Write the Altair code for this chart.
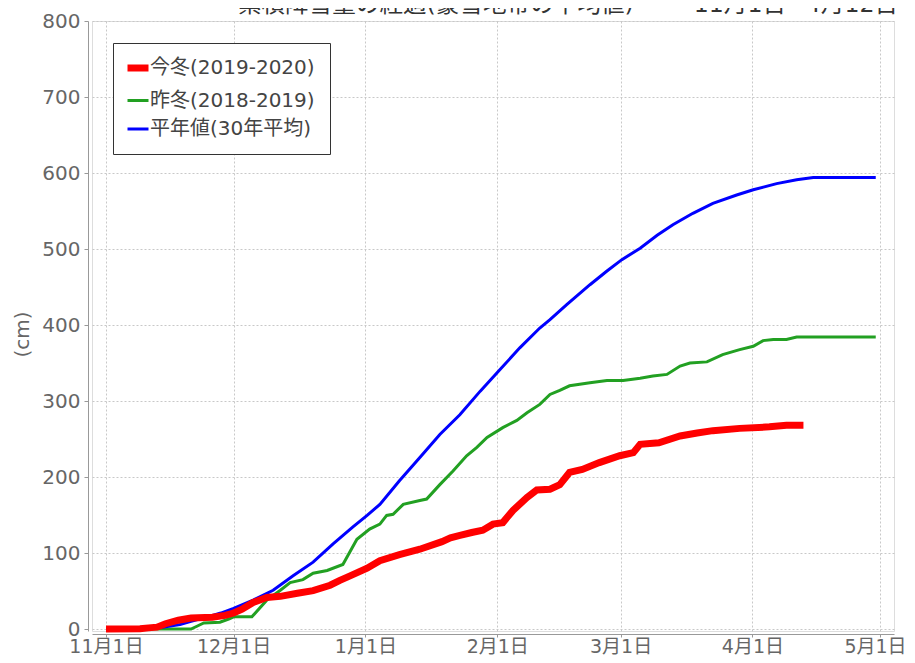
import altair as alt
import pandas as pd

FONT = "DejaVu Sans, Noto Sans CJK JP"

series_names = ["今冬(2019-2020)", "昨冬(2018-2019)", "平年値(30年平均)"]
series_colors = ["#ff0000", "#22a022", "#0000ff"]
series_widths = [7, 3, 3]

# days since Nov 1 and cumulative snowfall (cm)
red_days = [0, 8, 10, 12, 14, 17, 20, 25, 28, 30, 32, 34.6, 37.8, 41, 45, 48.7, 52.7, 55, 57,
            61.4, 64.4, 69, 73.8, 79, 81, 83, 86, 88.6, 91, 93.3, 95.7, 99, 101.3, 104.4, 106.7,
            109, 112, 116, 120.8, 124, 125.6, 130, 135, 139, 142.7, 149, 156, 160, 164]
red_vals = [0, 0.5, 1.5, 2.5, 7, 11.6, 14.5, 15.5, 18, 21, 26, 35, 41.5, 43, 47, 50.5, 57.6, 64, 69,
            80, 90, 98, 105, 115, 120, 123, 127, 130, 138, 140, 156, 173, 183, 184, 190,
            206, 210, 219, 228, 232, 243, 245, 254, 258, 261, 264, 266, 268, 268]

green_days = [0, 20, 21.5, 23, 26.8, 29, 30, 34.3, 37.8, 41, 43.3, 46.3, 48.7, 52, 55.7, 59, 62,
              64.4, 66, 67.5, 69.9, 73.8, 75.4, 78.5, 81.6, 84.8, 87.2, 89.6, 93.3, 96.6, 99, 102,
              104.4, 106.7, 109, 113.8, 117.8, 121.6, 125.6, 128.6, 131.9, 135, 137.3, 141.3, 145,
              149, 152.2, 154.5, 156.9, 160, 162.4, 181]
green_vals = [0, 0, 4, 8, 9, 13.5, 16, 16, 38, 51, 61, 65, 73.5, 77, 85, 118, 131.5,
              138, 149.5, 151, 164, 169, 171, 190, 208, 228, 239, 252, 265, 274.5, 284.6, 295.5,
              308.6, 314, 320, 324, 327, 327, 330, 333, 335, 346, 350, 351.5, 361,
              367.6, 372, 379.5, 381, 381, 384.3, 384.3]

blue_days = [0, 8, 10, 12, 14, 17.4, 20, 23.7, 27, 30, 34.6, 39.3, 44, 48.7, 53.4, 58, 61.4, 64.4,
             69, 73.8, 78.5, 83.2, 88, 92.6, 97.3, 102, 104.4, 108.4, 113.8, 117.8, 121.3, 125.6,
             129.6, 133.3, 138, 142.7, 148.3, 152.2, 157.7, 162.4, 166.3, 181]
blue_vals = [0, 0, 0.5, 1.5, 3, 6, 10, 15.7, 21, 27, 38, 51, 70, 88, 112, 134, 149.5, 164,
             195, 225.6, 256, 282, 313, 341, 370, 396, 407, 427, 453, 471, 486, 501,
             518, 532, 547, 560, 571, 578, 586, 591, 594, 594]

tick_dates = ["2019-11-01", "2019-12-01", "2020-01-01", "2020-02-01", "2020-03-01",
              "2020-04-01", "2020-05-01"]
y_ticks = [0, 100, 200, 300, 400, 500, 600, 700, 800]

start = pd.Timestamp("2019-11-01")


def frame(days, vals, name):
    return pd.DataFrame({
        "date": [start + pd.Timedelta(days=d) for d in days],
        "cm": vals,
        "series": name,
    })


df = pd.concat([
    frame(green_days, green_vals, series_names[1]),
    frame(blue_days, blue_vals, series_names[2]),
    frame(red_days, red_vals, series_names[0]),
], ignore_index=True)


def dt(s, hours=0):
    t = pd.Timestamp(s)
    return alt.DateTime(year=t.year, month=t.month, date=t.day, hours=hours)


x_enc = alt.X(
    "date:T",
    scale=alt.Scale(domain=[dt("2019-10-28", 17), dt("2020-05-04", 7)], nice=False),
    axis=alt.Axis(
        values=[dt(s) for s in tick_dates],
        format="%-m月%-d日",
        title=None,
        labelFontSize=19,
        labelFont=FONT,
        labelColor="#666666",
        labelPadding=0,
        labelOffset={"condition": {"test": "month(datum.value) == 4", "value": -5}, "value": 0},
        tickSize=3,
        tickColor="#999999",
        domainColor="#999999",
        offset=3,
        grid=True,
        gridColor="#c8c8c8",
        gridDash=[2, 2],
        labelOverlap=False,
        labelFlush=False,
    ),
)

y_enc = alt.Y(
    "cm:Q",
    scale=alt.Scale(domain=[-2.6, 800], nice=False, zero=False),
    axis=alt.Axis(
        values=y_ticks,
        title="(cm)",
        titleFont=FONT,
        titleFontSize=20,
        titleFontWeight="normal",
        titleColor="#666666",
        titleX=-66,
        titleY=313,
        titleAngle=-90,
        titleAlign="center",
        titleBaseline="middle",
        labelFontSize=20,
        labelFont=FONT,
        labelColor="#666666",
        labelPadding=4,
        tickSize=4,
        tickColor="#999999",
        domainColor="#999999",
        offset=4,
        grid=True,
        gridColor="#c8c8c8",
        gridDash=[2, 2],
    ),
)

color_enc = alt.Color(
    "series:N",
    scale=alt.Scale(domain=series_names, range=series_colors),
    title=None,
    legend=alt.Legend(
        orient="none",
        legendX=21,
        legendY=22,
        direction="vertical",
        strokeColor="#333333",
        fillColor="#ffffff",
        padding=15,
        rowPadding=8.5,
        labelFont=FONT,
        labelFontSize=20,
        labelColor="#444444",
        labelOffset=2,
        labelLimit=400,
        symbolType="stroke",
        symbolSize=441,
        symbolStrokeWidth={"expr": "datum.value == '今冬(2019-2020)' ? 7 : 3"},
        cornerRadius=0,
    ),
)

base = alt.Chart(df)
green = base.transform_filter(alt.datum.series == series_names[1]).mark_line(strokeWidth=series_widths[1]).encode(
    x=x_enc, y=y_enc, color=color_enc, order="date:T")
blue = base.transform_filter(alt.datum.series == series_names[2]).mark_line(strokeWidth=series_widths[2]).encode(
    x=x_enc, y=y_enc, color=color_enc, order="date:T")
red = base.transform_filter(alt.datum.series == series_names[0]).mark_line(strokeWidth=series_widths[0]).encode(
    x=x_enc, y=y_enc, color=color_enc, order="date:T")

title_text = "累積降雪量の経過(豪雪地帯の平均値)" + "\u00a0" * 8 + "11月1日~4月12日"

chart = alt.layer(green, blue, red).properties(
    width=802,
    height=610,
    autosize=alt.AutoSizeParams(type="none"),
    padding={"left": 84, "top": 13, "right": 13, "bottom": 24},
    title=alt.TitleParams(
        text=title_text,
        anchor="end",
        frame="group",
        offset=-6,
        dx=4,
        fontSize=23.6,
        font=FONT,
        fontWeight="normal",
        color="#333333",
    ),
).configure_view(
    stroke="#999999",
    strokeWidth=1,
).configure(
    background="#ffffff",
)

chart.save("out.html", embed_options={"renderer": "svg", "actions": False})
